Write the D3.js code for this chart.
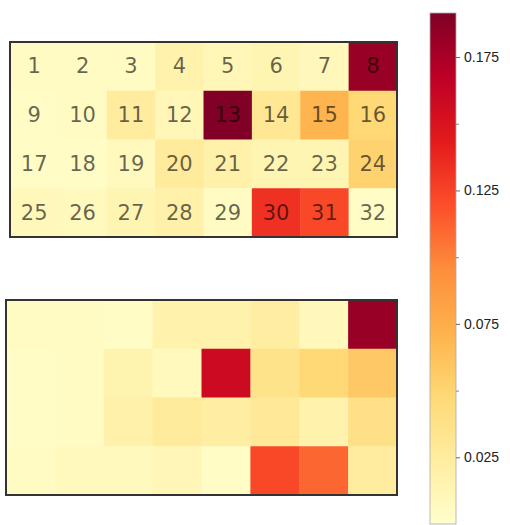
<!DOCTYPE html>
<html>
<head>
<meta charset="utf-8">
<script src="https://cdn.jsdelivr.net/npm/d3@7"></script>
<style>
  html, body { margin: 0; padding: 0; background: #fff; }
  svg { display: block; }
</style>
</head>
<body>
<svg id="chart" width="510" height="525"></svg>
<script>
// ---- data ----
const nRows = 4;
const nCols = 8;
const cellLabels = d3.range(1, 33).map(String);
// top map values (row-major, cells 1..32)
const topValues = [
  0.0057, 0.0050, 0.0050, 0.0172, 0.0115, 0.0134, 0.0096, 0.1819,
  0.0038, 0.0057, 0.0249, 0.0115, 0.1915, 0.0306, 0.0700, 0.0479,
  0.0038, 0.0038, 0.0077, 0.0268, 0.0192, 0.0134, 0.0134, 0.0517,
  0.0096, 0.0077, 0.0134, 0.0192, 0.0057, 0.1331, 0.1226, 0.0038
];
// bottom map values
const bottomValues = [
  0.0057, 0.0057, 0.0038, 0.0172, 0.0172, 0.0230, 0.0096, 0.1819,
  0.0038, 0.0057, 0.0153, 0.0077, 0.1580, 0.0364, 0.0479, 0.0575,
  0.0038, 0.0057, 0.0192, 0.0268, 0.0230, 0.0287, 0.0172, 0.0383,
  0.0057, 0.0077, 0.0077, 0.0115, 0.0038, 0.1226, 0.1105, 0.0249
];
const colorMin = 0;
const colorMax = 0.1915;
const paletteColors = ["#ffffcc", "#ffeda0", "#fed976", "#feb24c", "#fd8d3c", "#fc4e2a", "#e31a1c", "#bd0026", "#800026"];
const majorTicks = [0.025, 0.075, 0.125, 0.175];
const minorTicks = [0.05, 0.1, 0.15];

// ---- drawing ----
const svg = d3.select("#chart");
const color = d3.scaleLinear()
  .domain(paletteColors.map((c, i) => colorMin + (colorMax - colorMin) * i / (paletteColors.length - 1)))
  .range(paletteColors)
  .interpolate(d3.interpolateRgb)
  .clamp(true);

function drawMap(values, box, withLabels) {
  const x = d3.scaleBand().domain(d3.range(nCols)).range([box.x0, box.x1]);
  const y = d3.scaleBand().domain(d3.range(nRows)).range([box.y0, box.y1]);
  const g = svg.append("g");
  const cells = values.map((v, i) => ({ v, r: Math.floor(i / nCols), c: i % nCols, label: cellLabels[i] }));
  g.selectAll("rect.cell").data(cells).enter().append("rect")
    .attr("class", "cell")
    .attr("x", d => x(d.c))
    .attr("y", d => y(d.r))
    .attr("width", x.bandwidth() + 0.5)
    .attr("height", y.bandwidth() + 0.5)
    .attr("fill", d => color(d.v));
  if (withLabels) {
    g.selectAll("text.lbl").data(cells).enter().append("text")
      .attr("class", "lbl")
      .attr("x", d => x(d.c) + x.bandwidth() / 2)
      .attr("y", d => y(d.r) + y.bandwidth() / 2)
      .attr("text-anchor", "middle")
      .attr("dominant-baseline", "central")
      .attr("font-family", "DejaVu Sans")
      .attr("font-size", 21)
      .attr("fill", "#000")
      .attr("fill-opacity", 0.6)
      .text(d => d.label);
  }
  g.append("rect")
    .attr("x", box.x0).attr("y", box.y0)
    .attr("width", box.x1 - box.x0).attr("height", box.y1 - box.y0)
    .attr("fill", "none").attr("stroke", "#333").attr("stroke-width", 2);
}

drawMap(topValues, { x0: 10, x1: 397, y0: 42, y1: 237 }, true);
drawMap(bottomValues, { x0: 6, x1: 397, y0: 300, y1: 495 }, false);

// ---- colorbar ----
const cb = { x0: 430, x1: 456, y0: 13, y1: 524 };
const cy = d3.scaleLinear().domain([colorMin, colorMax]).range([cb.y1, cb.y0]);
const defs = svg.append("defs");
const grad = defs.append("linearGradient").attr("id", "cbgrad")
  .attr("x1", 0).attr("y1", 1).attr("x2", 0).attr("y2", 0);
paletteColors.forEach((c, i) => {
  grad.append("stop").attr("offset", i / (paletteColors.length - 1)).attr("stop-color", c);
});
svg.append("rect")
  .attr("x", cb.x0).attr("y", cb.y0)
  .attr("width", cb.x1 - cb.x0).attr("height", cb.y1 - cb.y0)
  .attr("fill", "url(#cbgrad)")
  .attr("stroke", "#aaa").attr("stroke-width", 0.8);

const axis = d3.axisRight(cy).tickValues(majorTicks).tickFormat(d3.format(".3f")).tickSize(4).tickPadding(4);
const ag = svg.append("g").attr("transform", `translate(${cb.x1},0)`).call(axis);
ag.select(".domain").remove();
ag.selectAll(".tick line").attr("stroke", "#666");
ag.selectAll(".tick text").attr("font-family", "Liberation Sans, Arial, sans-serif").attr("font-size", 14).attr("fill", "#222");

const minorAxis = d3.axisRight(cy).tickValues(minorTicks).tickFormat("").tickSize(3);
const mg = svg.append("g").attr("transform", `translate(${cb.x1},0)`).call(minorAxis);
mg.select(".domain").remove();
mg.selectAll(".tick line").attr("stroke", "#888");
</script>
</body>
</html>
